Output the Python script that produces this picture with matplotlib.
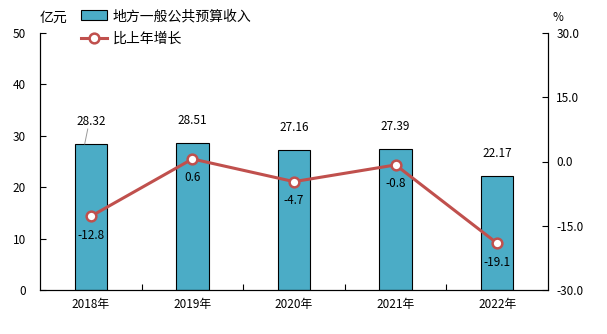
import matplotlib
matplotlib.use("Agg")
import matplotlib.pyplot as plt
import numpy as np

plt.rcParams['font.family'] = ['Noto Sans CJK SC', 'DejaVu Sans']

years = ['2018年', '2019年', '2020年', '2021年', '2022年']
revenue = [28.32, 28.51, 27.16, 27.39, 22.17]
growth = [-12.8, 0.6, -4.7, -0.8, -19.1]

bar_color = '#4BACC6'
line_color = '#C0504D'

fig = plt.figure(figsize=(6.07, 3.34), dpi=100)
ax = fig.add_axes([40 / 607, 44 / 334, 508 / 607, 257 / 334])
x = np.arange(len(years))

bars = ax.bar(x, revenue, width=0.32, color=bar_color, edgecolor='black',
              linewidth=0.8, label='地方一般公共预算收入', zorder=2)
ax.set_xlim(-0.5, len(years) - 0.5)
ax.set_ylim(0, 50)
ax.set_yticks(range(0, 51, 10))
ax.set_xticks(x)
ax.set_xticklabels(years)
ax.set_xticks(np.arange(0.5, len(years) - 1, 1), minor=True)
ax.tick_params(axis='x', which='major', length=0, pad=6, labelsize=8.5)
ax.tick_params(axis='x', which='minor', direction='in', length=4, width=0.8)
ax.tick_params(axis='y', direction='in', length=4, width=0.8, labelsize=8.5, pad=10)
ax.spines['top'].set_visible(False)
for s in ['left', 'bottom']:
    ax.spines[s].set_linewidth(0.8)
ax.text(0.0, 1.03, '亿元', transform=ax.transAxes, ha='left', va='bottom', fontsize=10)

# value labels above bars
for i, v in enumerate(revenue):
    ax.text(i, v + 3.2, f'{v:.2f}', ha='center', va='bottom', fontsize=8.5)
# leader line for first label
ax.plot([-0.03, -0.06], [revenue[0] + 3.0, revenue[0] + 0.1],
        color='#999999', linewidth=0.7, zorder=3)

ax2 = ax.twinx()
ax2.set_ylim(-30, 30)
ax2.set_yticks([-30, -15, 0, 15, 30])
ax2.set_yticklabels([f'{t:.1f}' for t in [-30, -15, 0, 15, 30]])
ax2.tick_params(axis='y', direction='in', length=4, width=0.8, labelsize=8.5, pad=6)
ax2.spines['top'].set_visible(False)
ax2.spines['right'].set_linewidth(0.8)
line, = ax2.plot(x, growth, color=line_color, linewidth=2.2, marker='o',
                 markersize=7, markerfacecolor='white', markeredgecolor=line_color,
                 markeredgewidth=1.8, label='比上年增长', zorder=4)
ax2.text(1.008, 1.035, '%', transform=ax2.transAxes, ha='left', va='bottom', fontsize=8.5)

for i, v in enumerate(growth):
    ax2.text(i, v - 4.4, f'{v:.1f}', ha='center', va='center', fontsize=8.5)

fig.legend(handles=[bars, line], loc='upper left', bbox_to_anchor=(72 / 607, 1.0),
           frameon=False, fontsize=10, handlelength=1.9, handletextpad=0.4,
           labelspacing=0.65, borderaxespad=0.25)

fig.savefig('out.png', dpi=100)
